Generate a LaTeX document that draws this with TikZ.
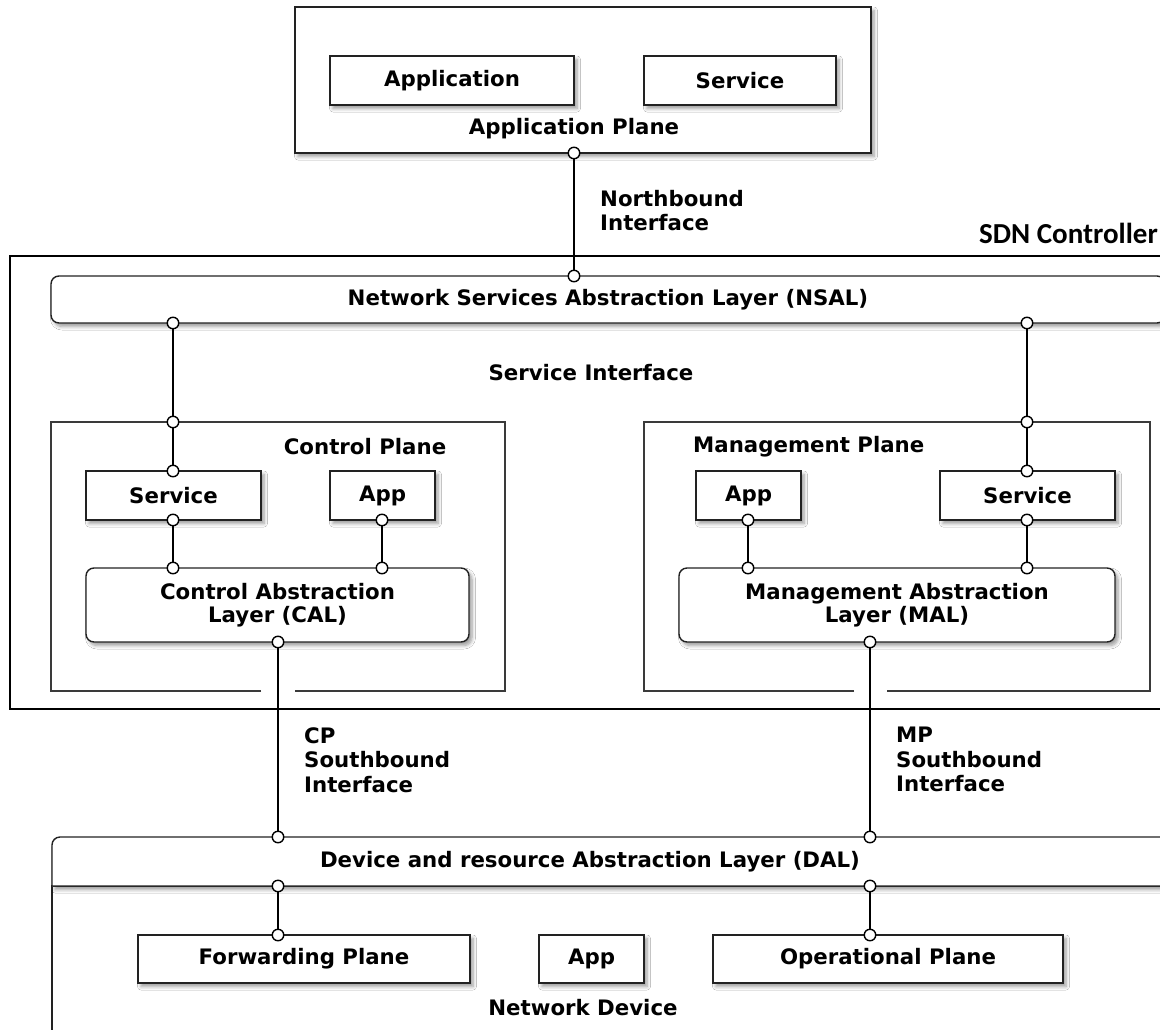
\documentclass[tikz,border=0pt]{standalone}
\usepackage{fontspec}
\setmainfont{DejaVu Sans}
\newfontfamily\calibfont{Carlito}
\usetikzlibrary{shadows.blur}
\definecolor{ink}{HTML}{222222}
\definecolor{frame}{HTML}{3A3A3A}
\newcommand{\lbl}{\fontsize{21.3}{24.5}\selectfont\bfseries}
\tikzset{
  shd/.style={blur shadow={shadow xshift=3pt, shadow yshift=-3.5pt,
      shadow blur radius=3.5pt, shadow blur steps=6, shadow opacity=40}},
  bx/.style={draw=ink, line width=1.4pt, fill=white, rectangle, inner sep=0pt,
      shd, font=\lbl, align=center},
  rbx/.style={bx, rounded corners=8pt},
  port/.style={circle, draw=black, fill=white, line width=1.4pt,
      minimum size=11.5pt, inner sep=0pt},
  wire/.style={draw=black, line width=1.4pt},
  txt/.style={font=\lbl, inner sep=0pt, align=left},
  plane/.style={draw=frame, line width=1.3pt}
}
\begin{document}
\begin{tikzpicture}[x=1pt, y=-1pt]
\path[use as bounding box, fill=white] (0,0) rectangle (1160,1029);
\clip (0,0) rectangle (1160,1029);

% ---------- application plane ----------
\node[bx, minimum width=576pt, minimum height=146pt] (appplane) at (583,80) {};
\node[bx, minimum width=244pt, minimum height=49pt] (application) at (452,80.5) {Application};
\node[bx, minimum width=192pt, minimum height=49pt] (appservice) at (740,80.5) {Service};
\node[txt] (applbl) at (574,129) {Application Plane};

\node[txt, anchor=north west] (northlbl) at (600,190) {Northbound\\Interface};

% ---------- SDN controller ----------
\draw[black, line width=2.2pt] (10,256) rectangle (1200,709);
\node[font=\calibfont\fontsize{29}{30}\selectfont\bfseries, inner sep=0pt,
      anchor=base east] (sdnlbl) at (1158,243) {SDN Controller};

\node[rbx, minimum width=1114pt, minimum height=47pt] (nsal) at (608,299.5)
  {Network Services Abstraction Layer (NSAL)};
\node[txt] (svclbl) at (591,373) {Service Interface};

% control plane container (gap in the bottom edge for the southbound link)
\draw[plane] (261,691) -| (51,422) -| (505,691) -- (295,691);
\node[txt] (cplbl) at (365,447) {Control Plane};
\node[bx, minimum width=175pt, minimum height=49pt] (cpservice) at (173.5,495.5) {Service};
\node[bx, minimum width=105pt, minimum height=49pt] (cpapp) at (382.5,495.5) {App};
\node[rbx, minimum width=383pt, minimum height=74pt] (cal) at (277.5,605)
  {Control Abstraction\\[-1pt]Layer (CAL)};

% management plane container
\draw[plane] (854,691) -| (644,422) -| (1150,691) -- (887,691);
\node[txt, anchor=west] (mplbl) at (693,447) {Management Plane};
\node[bx, minimum width=105pt, minimum height=49pt] (mpapp) at (748.5,495.5) {App};
\node[bx, minimum width=175pt, minimum height=49pt] (mpservice) at (1027.5,495.5) {Service};
\node[rbx, minimum width=436pt, minimum height=74pt] (mal) at (897,605)
  {Management Abstraction\\[-1pt]Layer (MAL)};

\node[txt, anchor=north west] (cpsbi) at (304,727) {CP\\Southbound\\Interface};
\node[txt, anchor=north west] (mpsbi) at (896,727) {MP\\Southbound\\Interface};

% ---------- network device ----------
\draw[draw=ink, line width=1.4pt, fill=white] (52,886) rectangle (1200,1100);
\draw[draw=ink, line width=1.4pt, fill=white, shd]
  (52,886) [rounded corners=8pt] |- (1200,837) [sharp corners] -- (1200,886) -- cycle;
\node[txt] (dallbl) at (590,862) {Device and resource Abstraction Layer (DAL)};
\node[bx, minimum width=332pt, minimum height=48pt] (fwd) at (304,959) {Forwarding Plane};
\node[bx, minimum width=105pt, minimum height=48pt] (ndapp) at (591.5,959) {App};
\node[bx, minimum width=350pt, minimum height=48pt] (opp) at (888,959) {Operational Plane};
\node[txt] (ndlbl) at (583,1008) {Network Device};

% ---------- ports ----------
\node[port] (apB) at (574,153) {};
\node[port] (nsT) at (574,276) {};
\node[port] (nsL) at (173,323) {};
\node[port] (nsR) at (1027,323) {};
\node[port] (cpT) at (173,422) {};
\node[port] (mpT) at (1027,422) {};
\node[port] (cpsT) at (173,471) {};
\node[port] (cpsB) at (173,520) {};
\node[port] (cpaB) at (382,520) {};
\node[port] (calT1) at (173,568) {};
\node[port] (calT2) at (382,568) {};
\node[port] (calB) at (278,642) {};
\node[port] (mpaB) at (748,520) {};
\node[port] (mpsT) at (1027,471) {};
\node[port] (mpsB) at (1027,520) {};
\node[port] (malT1) at (748,568) {};
\node[port] (malT2) at (1027,568) {};
\node[port] (malB) at (870,642) {};
\node[port] (dalT1) at (278,837) {};
\node[port] (dalT2) at (870,837) {};
\node[port] (dalB1) at (278,886) {};
\node[port] (dalB2) at (870,886) {};
\node[port] (fwdT) at (278,935) {};
\node[port] (oppT) at (870,935) {};

% ---------- links ----------
\draw[wire] (apB) -- (nsT);
\draw[wire] (nsL) -- (cpT);
\draw[wire] (cpT) -- (cpsT);
\draw[wire] (cpsB) -- (calT1);
\draw[wire] (cpaB) -- (calT2);
\draw[wire] (calB) -- (dalT1);
\draw[wire] (nsR) -- (mpT);
\draw[wire] (mpT) -- (mpsT);
\draw[wire] (mpsB) -- (malT2);
\draw[wire] (mpaB) -- (malT1);
\draw[wire] (malB) -- (dalT2);
\draw[wire] (dalB1) -- (fwdT);
\draw[wire] (dalB2) -- (oppT);
\end{tikzpicture}
\end{document}
